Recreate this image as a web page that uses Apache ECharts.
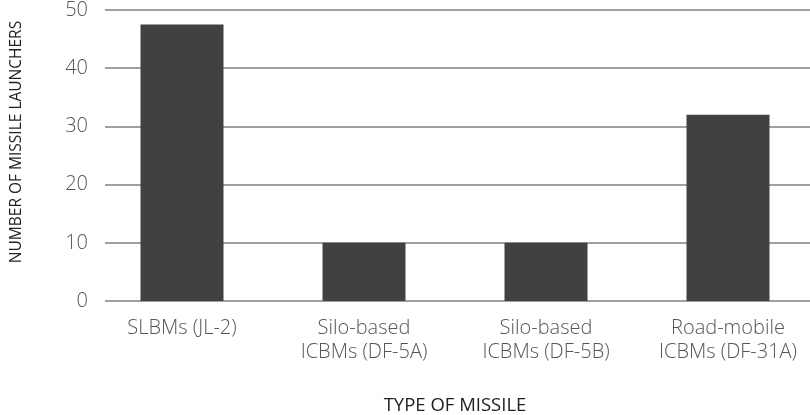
<!DOCTYPE html>
<html>
<head>
<meta charset="utf-8">
<script src="https://cdn.jsdelivr.net/npm/echarts@6/dist/echarts.min.js"></script>
<style>
  html, body { margin: 0; padding: 0; background: #fff; }
  #chart { width: 810px; height: 415px; }
</style>
</head>
<body>
<div id="chart"></div>
<script>
var categories = [
  'SLBMs (JL-2)',
  'Silo-based\nICBMs (DF-5A)',
  'Silo-based\nICBMs (DF-5B)',
  'Road-mobile\nICBMs (DF-31A)'
]
var launchers = [47.5, 10, 10, 32]
var yTicks = { min: 0, max: 50, interval: 10 }
var yTitle = 'NUMBER OF MISSILE LAUNCHERS'
var xTitle = 'TYPE OF MISSILE'

var myChart = echarts.init(document.getElementById('chart'))
var font = 'Open Sans'

option = {
  animation: false,
  grid: [
    // grid lines + y labels
    { left: 105, right: 0, top: 10, bottom: 114, outerBoundsMode: 'none' },
    // bars + category labels (band runs a little past the right edge)
    { left: 91, width: 728, top: 10, bottom: 114, outerBoundsMode: 'none' }
  ],
  xAxis: [
    { gridIndex: 0, type: 'value', show: false },
    {
      gridIndex: 1,
      type: 'category',
      data: categories,
      axisLine: { show: false },
      axisTick: { show: false },
      axisLabel: {
        margin: 15,
        color: '#555',
        fontFamily: font,
        fontWeight: 300,
        fontSize: 20,
        lineHeight: 24
      },
      name: xTitle,
      nameLocation: 'middle',
      nameGap: 95,
      nameTextStyle: { color: '#222', fontFamily: font, fontSize: 18.5 }
    }
  ],
  yAxis: [
    {
      gridIndex: 0,
      type: 'value',
      min: yTicks.min,
      max: yTicks.max,
      interval: yTicks.interval,
      axisLine: { show: false },
      axisTick: { show: false },
      splitLine: { lineStyle: { color: '#808080', width: 1.5 } },
      axisLabel: {
        margin: 17,
        color: '#555',
        fontFamily: font,
        fontWeight: 300,
        fontSize: 20
      }
    },
    {
      gridIndex: 1,
      type: 'value',
      min: yTicks.min,
      max: yTicks.max,
      show: false
    }
  ],
  graphic: [
    {
      type: 'text',
      x: 17,
      y: 142,
      rotation: Math.PI / 2,
      style: {
        text: yTitle,
        fill: '#222',
        font: '15.5px "Open Sans"',
        textAlign: 'center',
        textVerticalAlign: 'middle'
      }
    }
  ],
  series: [
    {
      type: 'bar',
      xAxisIndex: 1,
      yAxisIndex: 1,
      barWidth: 83,
      itemStyle: { color: '#414143' },
      data: launchers
    }
  ]
}
myChart.setOption(option)
</script>
</body>
</html>
